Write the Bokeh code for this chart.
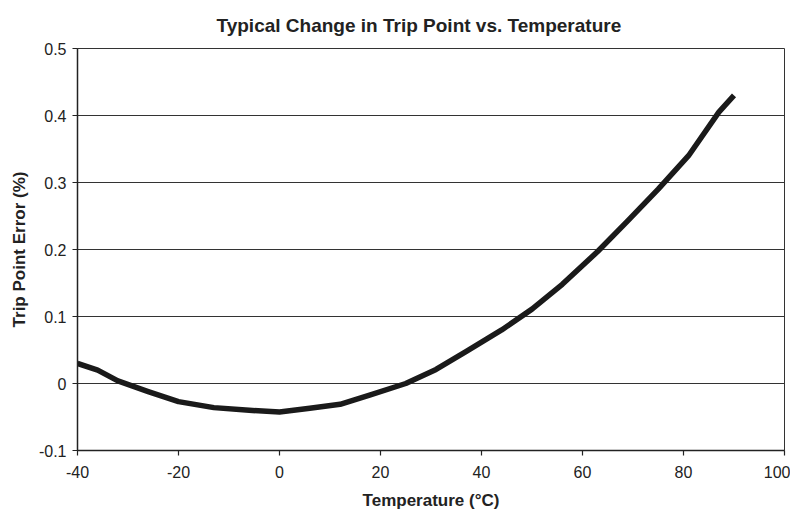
from bokeh.plotting import figure
from bokeh.models import Range1d, FixedTicker, Title
from bokeh.embed import file_html
from bokeh.resources import INLINE

# Data
temperature = [-40, -36, -32, -26, -20, -13, -6, 0, 6, 12, 18, 25, 31, 37, 44, 50, 56, 63, 69, 75, 81, 87, 90]
trip_error = [0.030, 0.020, 0.004, -0.012, -0.027, -0.036, -0.040, -0.0425, -0.037, -0.031, -0.017, 0.000,
              0.021, 0.048, 0.080, 0.111, 0.148, 0.197, 0.243, 0.290, 0.340, 0.405, 0.430]

x_ticks = [-40, -20, 0, 20, 40, 60, 80, 100]
x_tick_labels = ["-40", "-20", "0", "20", "40", "60", "80", "100"]
y_ticks = [-0.1, 0.0, 0.1, 0.2, 0.3, 0.4, 0.5]
y_tick_labels = ["-0.1", "0", "0.1", "0.2", "0.3", "0.4", "0.5"]
chart_title = "Typical Change in Trip Point vs. Temperature"

FONT = "Liberation Sans"

p = figure(width=790, height=512, output_backend="svg", toolbar_location=None,
           x_range=Range1d(-40, 100), y_range=Range1d(-0.1, 0.5),
           min_border_left=77, min_border_right=6, min_border_top=45, min_border_bottom=60)

p.title = Title(text=chart_title, align="left", offset=139, standoff=25,
                text_font=FONT, text_font_size="19px", text_font_style="bold",
                text_color="#222222")

p.line(temperature, trip_error, line_width=5.5, line_color="#1a1a1a", line_join="round")

p.xaxis.ticker = FixedTicker(ticks=x_ticks)
p.xaxis.major_label_overrides = {t: l for t, l in zip(x_ticks, x_tick_labels)}
p.yaxis.ticker = FixedTicker(ticks=y_ticks)
p.yaxis.major_label_overrides = {t: l for t, l in zip(y_ticks, y_tick_labels)}

for ax in (p.xaxis, p.yaxis):
    ax.axis_line_color = "#222222"
    ax.axis_line_width = 1.5
    ax.major_tick_line_color = "#222222"
    ax.major_tick_line_width = 1.2
    ax.major_tick_out = 5
    ax.major_tick_in = 0
    ax.minor_tick_line_color = None
    ax.major_label_text_font = FONT
    ax.major_label_text_font_size = "16px"
    ax.major_label_text_color = "#222222"
    ax.axis_label_text_font = FONT
    ax.axis_label_text_font_size = "17px"
    ax.axis_label_text_font_style = "bold"
    ax.axis_label_text_color = "#222222"

p.xaxis.axis_label = "Temperature (°C)"
p.yaxis.axis_label = "Trip Point Error (%)"
p.xaxis.major_label_standoff = 10
p.yaxis.major_label_standoff = 6
p.xaxis.axis_label_standoff = 10
p.yaxis.axis_label_standoff = 7

p.xgrid.grid_line_color = None
p.ygrid.grid_line_color = "#333333"
p.ygrid.grid_line_width = 1
p.outline_line_color = "#333333"
p.outline_line_width = 1
p.background_fill_color = "white"
p.border_fill_color = "white"

open("out.html", "w").write(file_html(p, INLINE))
